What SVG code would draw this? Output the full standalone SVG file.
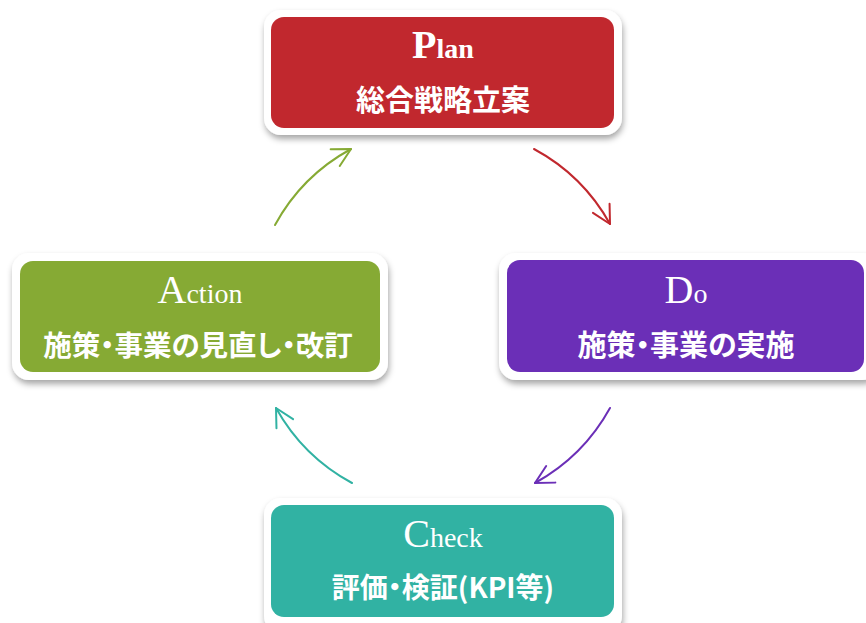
<svg xmlns="http://www.w3.org/2000/svg" width="866" height="623" viewBox="0 0 866 623">
<defs>
<filter id="sh" x="-10%" y="-10%" width="120%" height="130%">
<feDropShadow dx="1" dy="4" stdDeviation="3" flood-color="#000" flood-opacity="0.35"/>
</filter>
<marker id="mG" markerUnits="userSpaceOnUse" markerWidth="30" markerHeight="30" refX="0" refY="0" orient="auto" overflow="visible"><path d="M-18,-9.5 L0,0 L-18,9.5" fill="none" stroke="#86AA34" stroke-width="2" stroke-linecap="round" stroke-linejoin="round"/></marker>
<marker id="mR" markerUnits="userSpaceOnUse" markerWidth="30" markerHeight="30" refX="0" refY="0" orient="auto" overflow="visible"><path d="M-18,-9.5 L0,0 L-18,9.5" fill="none" stroke="#C1282E" stroke-width="2" stroke-linecap="round" stroke-linejoin="round"/></marker>
<marker id="mP" markerUnits="userSpaceOnUse" markerWidth="30" markerHeight="30" refX="0" refY="0" orient="auto" overflow="visible"><path d="M-18,-9.5 L0,0 L-18,9.5" fill="none" stroke="#6B2FB7" stroke-width="2" stroke-linecap="round" stroke-linejoin="round"/></marker>
<marker id="mT" markerUnits="userSpaceOnUse" markerWidth="30" markerHeight="30" refX="0" refY="0" orient="auto" overflow="visible"><path d="M-18,-9.5 L0,0 L-18,9.5" fill="none" stroke="#31B2A3" stroke-width="2" stroke-linecap="round" stroke-linejoin="round"/></marker>
</defs>
<style>
.outer{fill:#fff;filter:url(#sh);}
.ttl{font-family:"Liberation Serif","Times New Roman",serif;fill:#fff;text-anchor:middle;font-size:28px;}
.big{font-size:40px;}
.sub{font-family:"Noto Sans CJK JP","Noto Sans",sans-serif;font-weight:bold;font-size:28px;fill:#fff;text-anchor:middle;font-feature-settings:"palt";}
.arc{fill:none;stroke-width:2;stroke-linecap:round;}
</style>
<rect width="866" height="623" fill="#fff"/>
<g id="plan">
<rect class="outer" x="264" y="10" width="358" height="125" rx="17"/>
<rect x="271" y="17" width="343" height="111" rx="13" fill="#C1282E"/>
<text class="ttl" x="443" y="58" font-weight="bold"><tspan class="big">P</tspan>lan</text>
<text class="sub" x="443" y="111" style="font-size:29px">総合戦略立案</text>
</g>
<g id="action">
<rect class="outer" x="12" y="253" width="376" height="127" rx="17"/>
<rect x="20" y="261" width="360" height="111" rx="13" fill="#86AA34"/>
<text class="ttl" x="200" y="303"><tspan class="big">A</tspan>ction</text>
<text class="sub" x="198" y="356" style="font-size:28.5px">施策・事業の見直し・改訂</text>
</g>
<g id="do">
<rect class="outer" x="499" y="253" width="380" height="127" rx="17"/>
<rect x="507" y="260" width="357" height="112" rx="13" fill="#6B2FB7"/>
<text class="ttl" x="686" y="303"><tspan class="big">D</tspan>o</text>
<text class="sub" x="686" y="356" style="font-size:29px">施策・事業の実施</text>
</g>
<g id="check">
<rect class="outer" x="264" y="498" width="358" height="135" rx="17"/>
<rect x="271" y="505" width="343" height="112" rx="13" fill="#31B2A3"/>
<text class="ttl" x="443" y="547"><tspan class="big">C</tspan>heck</text>
<text class="sub" x="443" y="598">評価・検証(KPI等)</text>
</g>
<g id="connectors">
<path class="arc" d="M534,149 A190,190 0 0 1 610,224" stroke="#C1282E" marker-end="url(#mR)"/>
<path class="arc" d="M610,408 A191,191 0 0 1 535,483" stroke="#6B2FB7" marker-end="url(#mP)"/>
<path class="arc" d="M352,483 A191,191 0 0 1 276,408" stroke="#31B2A3" marker-end="url(#mT)"/>
<path class="arc" d="M275,225 A190,190 0 0 1 351,149" stroke="#86AA34" marker-end="url(#mG)"/>
</g>
</svg>
